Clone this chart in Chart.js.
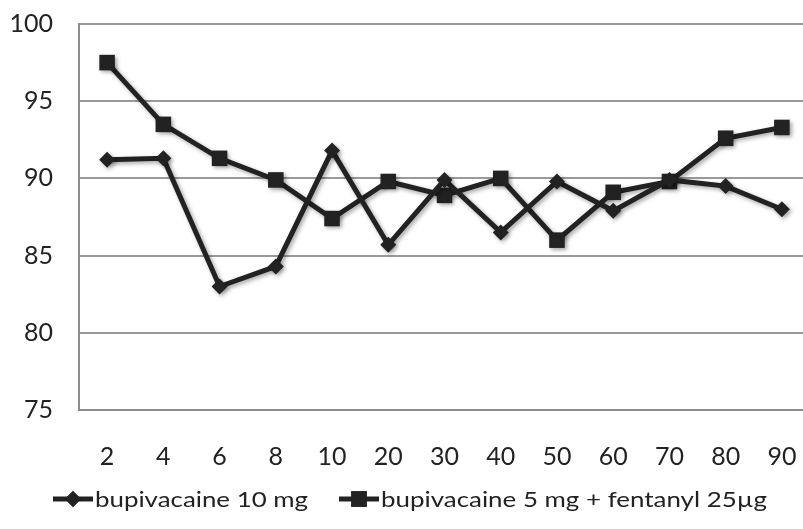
<!DOCTYPE html>
<html>
<head>
<meta charset="utf-8">
<script src="https://cdn.jsdelivr.net/npm/chart.js@4"></script>
<style>
  html, body { margin: 0; padding: 0; background: #fff; overflow: hidden; }
  #wrap { width: 821px; height: 529px; position: relative; }
</style>
</head>
<body>
<div id="wrap"><canvas id="c"></canvas></div>
<script>
const timePoints = ['2', '4', '6', '8', '10', '20', '30', '40', '50', '60', '70', '80', '90'];
const bupi10 = [91.2, 91.3, 83.0, 84.3, 91.8, 85.7, 89.9, 86.5, 89.8, 87.9, 89.9, 89.5, 88.0];
const bupi5Fenta = [97.5, 93.5, 91.3, 89.9, 87.4, 89.8, 88.9, 90.0, 86.0, 89.1, 89.8, 92.6, 93.3];
const seriesNames = ['bupivacaine 10 mg', 'bupivacaine 5 mg + fentanyl 25µg'];
const yTicks = [75, 80, 85, 90, 95, 100];

const INK = '#222222';
const FONT = 'Lato, "Open Sans", sans-serif';
const CLEAR = 'rgba(0,0,0,0)';

// soft drop shadow under the lines, like the original
const ShadowPlugin = {
  id: 'shadow',
  beforeDatasetsDraw(chart) {
    const ctx = chart.ctx;
    ctx.save();
    ctx.shadowColor = 'rgba(0,0,0,0.35)';
    ctx.shadowBlur = 4;
    ctx.shadowOffsetX = 2;
    ctx.shadowOffsetY = 2;
  },
  afterDatasetsDraw(chart) { chart.ctx.restore(); }
};

// legend with a short line + marker in front of each label
const LineLegend = {
  id: 'lineLegend',
  afterDraw(chart) {
    const ctx = chart.ctx;
    const y = 499;
    const items = [
      { x: 53, style: 'rectRot', r: 8, textW: 213 },
      { x: 339, style: 'rect', r: 11, textW: 386 },
    ];
    ctx.save();
    ctx.font = '22px ' + FONT;
    ctx.textBaseline = 'middle';
    items.forEach((it, i) => {
      ctx.strokeStyle = INK;
      ctx.lineWidth = 5;
      ctx.beginPath();
      ctx.moveTo(it.x, y);
      ctx.lineTo(it.x + 40, y);
      ctx.stroke();
      Chart.helpers.drawPoint(ctx, { pointStyle: it.style, radius: it.r, borderWidth: 0 }, it.x + 20, y);
      ctx.fillStyle = INK;
      ctx.fill();
      // original legend text is slightly stretched sideways
      const w = ctx.measureText(seriesNames[i]).width;
      ctx.save();
      ctx.translate(it.x + 42, y + 1);
      ctx.scale(it.textW / w, 1);
      ctx.fillText(seriesNames[i], 0, 0);
      ctx.restore();
    });
    ctx.restore();
  }
};

new Chart(document.getElementById('c'), {
  type: 'line',
  data: {
    labels: timePoints,
    datasets: [
      { label: seriesNames[0], data: bupi10, borderColor: INK, backgroundColor: INK, borderWidth: 5,
        pointStyle: 'rectRot', pointRadius: 8, pointBorderWidth: 0, tension: 0 },
      { label: seriesNames[1], data: bupi5Fenta, borderColor: INK, backgroundColor: INK, borderWidth: 5,
        pointStyle: 'rect', pointRadius: 11, pointBorderWidth: 0, tension: 0 },
    ]
  },
  options: {
    responsive: true, maintainAspectRatio: false, animation: false,
    layout: { padding: { top: 24, right: 0, bottom: 44, left: 0 } },
    plugins: { legend: { display: false }, tooltip: { enabled: false } },
    scales: {
      x: {
        offset: true,
        grid: { display: false, drawTicks: true, tickLength: 30, tickColor: CLEAR },
        border: { color: '#8c8c8c', width: 2 },
        ticks: { color: INK, font: { family: FONT, size: 25 }, padding: 2 },
        afterFit: s => { s.height = 75; }
      },
      y: {
        min: 75, max: 100,
        afterBuildTicks: s => { s.ticks = yTicks.map(v => ({ value: v })); },
        grid: { color: '#9a9a9a', lineWidth: 2, drawTicks: true, tickLength: 24, tickColor: CLEAR },
        border: { color: '#8c8c8c', width: 2 },
        ticks: { color: INK, font: { family: FONT, size: 25 }, padding: 2 },
        afterFit: s => { s.width = 79; }
      }
    }
  },
  plugins: [ShadowPlugin, LineLegend]
});
</script>
</body>
</html>
